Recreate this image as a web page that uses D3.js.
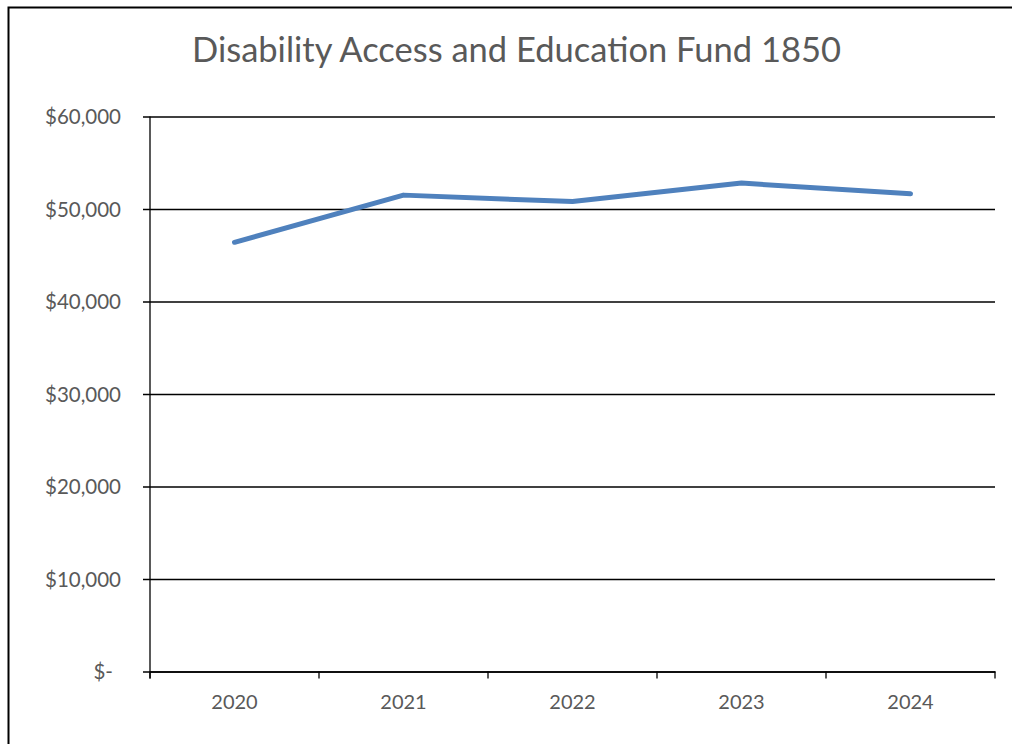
<!DOCTYPE html>
<html lang="en">
<head>
    <meta charset="UTF-8">
    <title>Disability Access and Education Fund 1850</title>
    <script src="https://d3js.org/d3.v7.min.js"></script>
    <style>
        body { margin: 0; background: #fff; }
        svg { display: block; }
    </style>
</head>
<body>
    <script>
        // Dades del gràfic
        const chartTitle = "Disability Access and Education Fund 1850";
        const years = ["2020", "2021", "2022", "2023", "2024"];
        const funding = [46400, 51500, 50800, 52800, 51650];
        const yTicks = [0, 10000, 20000, 30000, 40000, 50000, 60000];

        const width = 1012, height = 744;
        const margin = { top: 116.5, right: 17, bottom: 72.5, left: 150 };
        const textColor = "#595959";
        const font = "Lato, 'Open Sans', sans-serif";

        const svg = d3.select("body").append("svg")
            .attr("width", width)
            .attr("height", height);

        // Vora del gràfic (continua fora de la imatge per dreta i baix)
        svg.append("rect")
            .attr("x", 8.5)
            .attr("y", 7.5)
            .attr("width", 1100)
            .attr("height", 800)
            .attr("fill", "#fff")
            .attr("stroke", "#000")
            .attr("stroke-width", 2);

        const x = d3.scaleBand()
            .domain(years)
            .range([margin.left, width - margin.right]);

        const y = d3.scaleLinear()
            .domain([0, 60000])
            .range([height - margin.bottom, margin.top]);

        // Títol
        svg.append("text")
            .attr("x", 516.5)
            .attr("y", 62)
            .attr("text-anchor", "middle")
            .attr("font-family", font)
            .attr("font-size", "34.5px")
            .attr("fill", textColor)
            .text(chartTitle);

        // Eix Y amb línies de graella
        const yAxis = d3.axisLeft(y)
            .tickValues(yTicks)
            .tickSize(-(width - margin.left - margin.right))
            .tickPadding(22)
            .tickFormat(d => d === 0 ? "$-" : "$" + d3.format(",")(d));

        const gy = svg.append("g")
            .attr("transform", `translate(${margin.left},0)`)
            .call(yAxis);
        gy.select(".domain").remove();
        gy.selectAll(".tick line")
            .attr("x1", -7)
            .attr("stroke", "#000")
            .attr("stroke-width", 1.6);
        gy.selectAll(".tick text")
            .attr("font-family", font)
            .attr("font-size", "20.5px")
            .attr("fill", textColor)
            .attr("dy", "0.36em")
            .attr("x", -29);
        gy.selectAll(".tick").filter(d => d === 0).select("text")
            .attr("x", -37);

        // Línia vertical de l'eix
        svg.append("line")
            .attr("x1", margin.left).attr("x2", margin.left)
            .attr("y1", y(60000)).attr("y2", y(0) + 7)
            .attr("stroke", "#000")
            .attr("stroke-width", 1.3);

        // Eix X
        const xAxis = d3.axisBottom(x).tickSize(0).tickPadding(20);
        const gx = svg.append("g")
            .attr("transform", `translate(0,${y(0)})`)
            .call(xAxis);
        gx.select(".domain")
            .attr("stroke", "#000")
            .attr("stroke-width", 1.6);
        gx.selectAll(".tick text")
            .attr("font-family", font)
            .attr("font-size", "20px")
            .attr("fill", textColor)
            .attr("dy", "0.71em")
            .attr("y", 23);

        // Marques entre categories
        const boundaries = years.map(d => x(d)).concat([x(years[years.length - 1]) + x.bandwidth()]);
        svg.append("g").selectAll("line")
            .data(boundaries)
            .join("line")
            .attr("x1", d => d).attr("x2", d => d)
            .attr("y1", y(0)).attr("y2", y(0) + 7)
            .attr("stroke", "#000")
            .attr("stroke-width", 1.3);

        // Sèrie
        const line = d3.line()
            .x((d, i) => x(years[i]) + x.bandwidth() / 2)
            .y(d => y(d));

        svg.append("path")
            .datum(funding)
            .attr("d", line)
            .attr("fill", "none")
            .attr("stroke", "#4F81BD")
            .attr("stroke-width", 5)
            .attr("stroke-linecap", "round")
            .attr("stroke-linejoin", "round");
    </script>
</body>
</html>
